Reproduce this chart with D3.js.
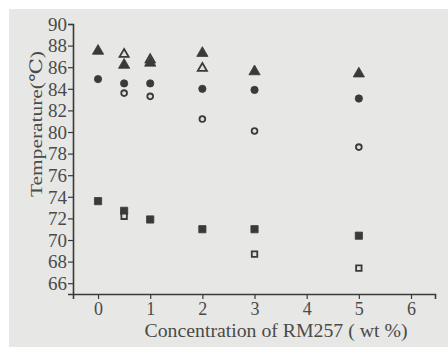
<!DOCTYPE html>
<html>
<head>
<meta charset="utf-8">
<script src="https://cdn.jsdelivr.net/npm/d3@7"></script>
<style>
  body { margin: 0; background: #fff; }
  svg { display: block; }
</style>
</head>
<body>
<svg id="chart" width="448" height="347"></svg>
<script>
const INK = '#3a3a3a';
const BG = '#e7e7e5';

// concentration of RM257 (wt %)
const concFilled = [0, 0.5, 1, 2, 3, 5];
const concOpenTri = [0.5, 1, 2];
const concOpenCircle = [0.5, 1, 2, 3, 5];
const concOpenSquare = [0.5, 3, 5];

// temperatures (°C)
const triFilled = [87.5, 86.2, 86.4, 87.3, 85.6, 85.4];
const triOpen = [87.2, 86.7, 85.9];
const circleFilled = [84.9, 84.5, 84.5, 84.0, 83.9, 83.1];
const circleOpen = [83.6, 83.3, 81.2, 80.1, 78.6];
const squareFilled = [73.6, 72.7, 71.9, 71.0, 71.0, 70.4];
const squareOpen = [72.2, 68.7, 67.4];

const xTicks = [0, 1, 2, 3, 4, 5, 6];
const yTicks = [66, 68, 70, 72, 74, 76, 78, 80, 82, 84, 86, 88, 90];

(function() {
    var svg = d3.select('#chart');
    var serif = '"Liberation Serif", "DejaVu Serif", serif';

    // scanned paper background with white margin
    svg.append('rect')
    .attr('x', 9).attr('y', 9)
    .attr('width', 439).attr('height', 338)
    .style('fill', BG);

    var x = d3.scaleLinear().domain([-0.48, 6.46]).range([73, 435]);
    var y = d3.scaleLinear().domain([65, 90]).range([294, 24]);

    var xAxis = svg.append('g')
    .attr('transform', 'translate(0,' + y(65) + ')')
    .call(d3.axisBottom(x).tickValues(xTicks).tickSize(5).tickPadding(3).tickFormat(d3.format('d')));

    var yAxis = svg.append('g')
    .attr('transform', 'translate(' + x(-0.48) + ',0)')
    .call(d3.axisLeft(y).tickValues(yTicks).tickSize(5).tickPadding(1).tickFormat(d3.format('d')));

    [xAxis, yAxis].forEach(function(g) {
        g.select('.domain').attr('stroke', INK).attr('stroke-width', 1.6);
        g.selectAll('.tick line').attr('stroke', INK).attr('stroke-width', 1.2);
        g.selectAll('.tick text')
        .attr('fill', '#4a4a4a')
        .style('font-family', serif)
        .style('font-size', '18px');
    });
    yAxis.selectAll('.tick text').attr('dy', '0.35em').attr('textLength', 19).attr('lengthAdjust', 'spacingAndGlyphs');

    // axis titles
    svg.append('text')
    .attr('x', 276).attr('y', 337)
    .attr('text-anchor', 'middle')
    .attr('fill', '#4a4a4a')
    .attr('textLength', 263).attr('lengthAdjust', 'spacingAndGlyphs')
    .style('font-family', serif)
    .style('font-size', '18px')
    .text('Concentration of RM257 ( wt %)');

    svg.append('text')
    .attr('transform', 'translate(42,124) rotate(-90)')
    .attr('text-anchor', 'middle')
    .attr('fill', '#4a4a4a')
    .attr('textLength', 146).attr('lengthAdjust', 'spacingAndGlyphs')
    .style('font-family', serif)
    .style('font-size', '17px')
    .text('Temperature(℃)');

    var plot = svg.append('g');

    function drawSeries(xs, ys, type, filled, size) {
        var sym = d3.symbol().type(type).size(size);
        plot.selectAll(null)
        .data(xs.map(function(d, i) { return [d, ys[i]]; }))
        .enter().append('path')
        .attr('d', sym)
        .attr('transform', function(d) { return 'translate(' + x(d[0]) + ',' + y(d[1]) + ')'; })
        .style('fill', filled ? INK : '#e0e0de')
        .style('stroke', INK)
        .style('stroke-width', filled ? 0.8 : 1.8);
    }

    drawSeries(concFilled, squareFilled, d3.symbolSquare, true, 52);
    drawSeries(concOpenSquare, squareOpen, d3.symbolSquare, false, 30);
    drawSeries(concFilled, circleFilled, d3.symbolCircle, true, 42);
    drawSeries(concOpenCircle, circleOpen, d3.symbolCircle, false, 26);
    drawSeries(concOpenTri, triOpen, d3.symbolTriangle, false, 36);
    drawSeries(concFilled, triFilled, d3.symbolTriangle, true, 55);
})();
</script>
</body>
</html>
